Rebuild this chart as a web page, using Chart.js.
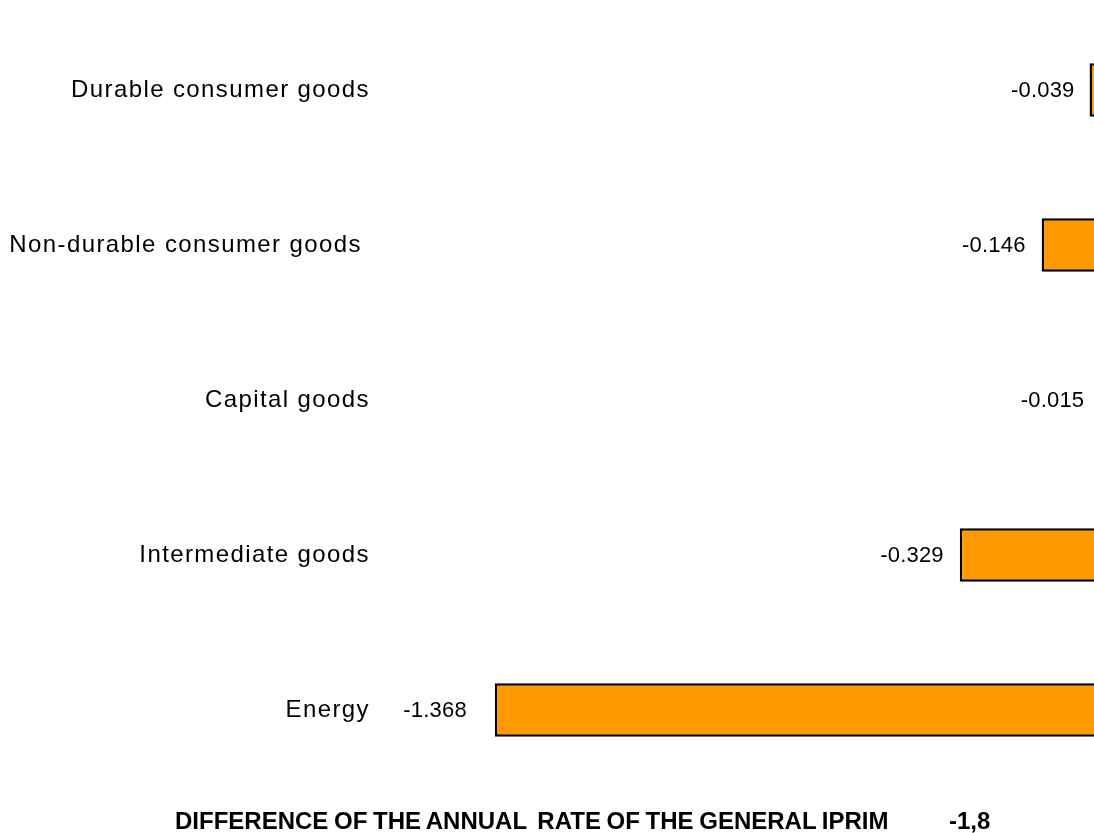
<!DOCTYPE html>
<html>
<head>
<meta charset="utf-8">
<script src="https://cdn.jsdelivr.net/npm/chart.js@4/dist/chart.umd.min.js"></script>
<style>
  html, body { margin: 0; padding: 0; background: #fff; overflow: hidden; }
  #wrap { position: relative; width: 1094px; height: 833px; overflow: hidden; }
  #cv { position: absolute; left: 0; top: 0; }
  .foot { position: absolute; top: 807px; font-family: "Liberation Sans", Arial, sans-serif; font-weight: bold; font-size: 24px; line-height: 28px; color: #000; white-space: nowrap; letter-spacing: 0px; word-spacing: -1px; }
</style>
</head>
<body>
<div id="wrap">
  <canvas id="cv" width="1120" height="833" style="width:1120px;height:833px"></canvas>
  <div class="foot" style="left:175px">DIFFERENCE OF THE ANNUAL <span style="margin-left:5px">RATE</span> OF THE GENERAL IPRIM</div>
  <div class="foot" style="left:949px">-1,8</div>
</div>
<script>
const categories = ["Durable consumer goods", "Non-durable consumer goods ", "Capital goods", "Intermediate goods", "Energy"];
const values = [-0.039, -0.146, -0.015, -0.329, -1.368];
const valueLabels = ["-0.039", "-0.146", "-0.015", "-0.329", "-1.368"];

const valueLabelPlugin = {
  id: 'valueLabels',
  beforeDraw(chart) {
    chart.ctx.letterSpacing = '1.4px';
  },
  beforeDatasetsDraw(chart) {
    chart.ctx.letterSpacing = '0px';
  },
  afterDatasetsDraw(chart, args, opts) {
    const ctx = chart.ctx;
    const meta = chart.getDatasetMeta(0);
    ctx.save();
    ctx.letterSpacing = '0.2px';
    ctx.font = '22px "Liberation Sans", Arial, sans-serif';
    ctx.fillStyle = '#000';
    ctx.textAlign = 'right';
    ctx.textBaseline = 'middle';
    meta.data.forEach((el, i) => {
      const gap = opts.gaps[i];
      ctx.fillText(valueLabels[i], el.x - gap, el.y + 1);
    });
    ctx.restore();
  }
};

new Chart(document.getElementById('cv'), {
  type: 'bar',
  data: {
    labels: categories,
    datasets: [{
      data: values,
      backgroundColor: '#FF9900',
      borderColor: '#000000',
      borderWidth: 2.5,
      borderSkipped: false,
      barPercentage: 0.345,
      categoryPercentage: 1
    }]
  },
  options: {
    indexAxis: 'y',
    responsive: false,
    animation: false,
    devicePixelRatio: 1,
    layout: { padding: { top: 12.5, bottom: 45.5, left: 0, right: 13 } },
    plugins: {
      legend: { display: false },
      tooltip: { enabled: false },
      title: { display: false },
      valueLabels: { gaps: [15, 16, 16, 16, 28] }
    },
    scales: {
      x: {
        display: false,
        min: -1.647,
        max: 0
      },
      y: {
        display: true,
        grid: { display: false, drawTicks: false },
        border: { display: false },
        ticks: {
          color: '#000',
          padding: 0,
          font: { family: '"Liberation Sans", Arial, sans-serif', size: 24, lineHeight: 1 }
        },
        afterFit(scale) { scale.width = 370; }
      }
    }
  },
  plugins: [valueLabelPlugin]
});
</script>
</body>
</html>
